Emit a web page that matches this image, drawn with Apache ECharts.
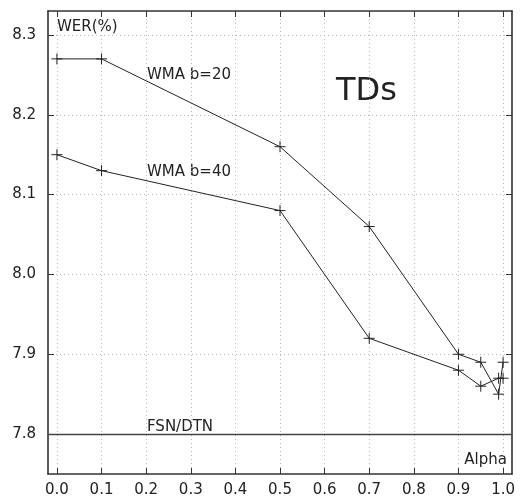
<!DOCTYPE html>
<html>
<head>
<meta charset="utf-8">
<script src="https://cdn.jsdelivr.net/npm/echarts@6/dist/echarts.min.js"></script>
<style>
html,body{margin:0;padding:0;background:#fff;}
#chart{width:522px;height:503px;}
</style>
</head>
<body>
<div id="chart"></div>
<script>
// Alpha values and word error rates for the two window sizes
const alphaB20 = [0.0, 0.1, 0.5, 0.7, 0.9, 0.95, 0.99, 1.0];
const werB20 = [8.27, 8.27, 8.16, 8.06, 7.90, 7.89, 7.85, 7.89];
const alphaB40 = [0.0, 0.1, 0.5, 0.7, 0.9, 0.95, 0.99, 1.0];
const werB40 = [8.15, 8.13, 8.08, 7.92, 7.88, 7.86, 7.87, 7.87];
// FSN/DTN baseline
const baselineWer = 7.8;
// tick labels
const xTicks = [0.0, 0.1, 0.2, 0.3, 0.4, 0.5, 0.6, 0.7, 0.8, 0.9, 1.0];
const yTicks = [7.8, 7.9, 8.0, 8.1, 8.2, 8.3];

const FONT = 'DejaVu Sans';
const INK = '#222';
const plus = 'path://M0,5L10,5M5,0L5,10';

const chart = echarts.init(document.getElementById('chart'), null, {renderer: 'canvas'});

function xAxisDef(pos, showLabel) {
  return {
    type: 'value', position: pos, min: -0.02, max: 1.02,
    axisLine: {show: true, onZero: false, lineStyle: {color: '#333', width: 1.6}},
    axisTick: {show: true, inside: true, length: 6, customValues: xTicks, lineStyle: {color: '#333', width: 1}},
    axisLabel: {show: showLabel, customValues: xTicks, formatter: v => v.toFixed(1),
      fontFamily: FONT, fontSize: 15, color: INK, margin: 9},
    splitLine: {show: showLabel, lineStyle: {color: '#bbb', type: [1, 3], width: 1}}
  };
}
function yAxisDef(pos, showLabel) {
  return {
    type: 'value', position: pos, min: 7.75, max: 8.33,
    axisLine: {show: true, onZero: false, lineStyle: {color: '#333', width: 1.6}},
    axisTick: {show: true, inside: true, length: 6, customValues: yTicks, lineStyle: {color: '#333', width: 1}},
    axisLabel: {show: showLabel, customValues: yTicks, formatter: v => v.toFixed(1),
      fontFamily: FONT, fontSize: 15, color: INK, margin: 12},
    splitLine: {show: showLabel, lineStyle: {color: '#bbb', type: [1, 3], width: 1}}
  };
}

function pairs(xs, ys) { return xs.map((x, i) => [x, ys[i]]); }

const lineSeries = (name, xs, ys) => ({
  name, type: 'line', data: pairs(xs, ys),
  symbol: plus, symbolSize: 11, showSymbol: true,
  lineStyle: {color: INK, width: 1},
  itemStyle: {color: INK, borderColor: INK, borderWidth: 1},
  emphasis: {disabled: true}, animation: false, z: 5
});

const note = (text, x, y, size, align) => ({
  type: 'text', x, y, silent: true,
  style: {text, font: size + 'px "DejaVu Sans"', fill: INK, align: align || 'left', verticalAlign: 'middle'}
});

chart.setOption({
  animation: false,
  grid: {left: 48, right: 10, top: 11, bottom: 29, show: false},
  xAxis: [xAxisDef('bottom', true), xAxisDef('top', false)],
  yAxis: [yAxisDef('left', true), yAxisDef('right', false)],
  series: [
    lineSeries('WMA b=20', alphaB20, werB20),
    lineSeries('WMA b=40', alphaB40, werB40),
    {
      name: 'FSN/DTN', type: 'line', data: [], silent: true,
      markLine: {
        symbol: 'none', silent: true, animation: false,
        label: {show: false},
        lineStyle: {color: '#444', type: 'solid', width: 1.3},
        data: [{yAxis: baselineWer}]
      }
    }
  ],
  graphic: [
    note('WER(%)', 57, 27, 15),
    note('WMA b=20', 147, 75, 15),
    note('WMA b=40', 147, 172, 15),
    note('FSN/DTN', 147, 427, 15),
    note('Alpha', 507, 460, 15, 'right'),
    note('TDs', 336, 92, 32)
  ]
});
</script>
</body>
</html>
